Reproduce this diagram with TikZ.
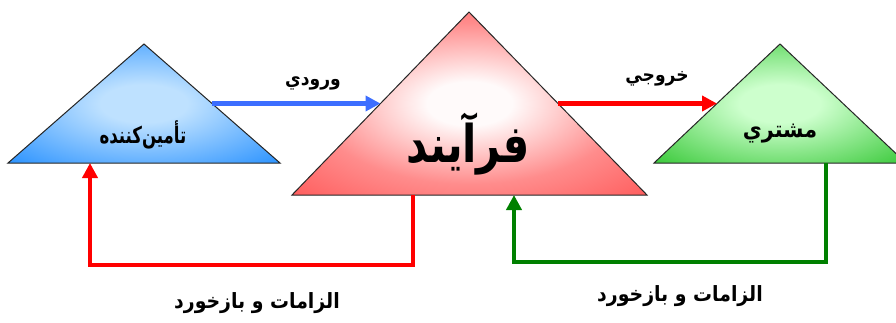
\documentclass[tikz,border=0pt]{standalone}
\usepackage{fontspec}
\newfontfamily\arabicfont[Script=Arabic,FakeStretch=0.9]{DejaVu Sans}
\newfontfamily\arabicnarrow[Script=Arabic,FakeStretch=0.72]{DejaVu Sans}
\newfontfamily\arabicbig[Script=Arabic,FakeStretch=0.8]{DejaVu Sans}
\TeXXeTstate=1
\usetikzlibrary{arrows.meta,calc}
\definecolor{blueIn}{RGB}{190,225,255}
\definecolor{blueOut}{RGB}{40,145,255}
\definecolor{redIn}{RGB}{255,250,250}
\definecolor{redMid}{RGB}{255,140,140}
\definecolor{redOut}{RGB}{255,85,85}
\definecolor{greenIn}{RGB}{205,255,205}
\definecolor{greenOut}{RGB}{55,200,55}
\definecolor{inArrow}{RGB}{60,110,255}
\definecolor{outArrow}{RGB}{255,0,0}
\definecolor{fbGreen}{RGB}{0,128,0}
\pgfdeclareradialshading{bluesh}{\pgfpoint{0bp}{0bp}}{color(0bp)=(blueIn); color(8bp)=(blueIn); color(36bp)=(blueOut); color(50bp)=(blueOut)}
\pgfdeclareradialshading{redsh}{\pgfpoint{0bp}{0bp}}{color(0bp)=(redIn); color(6bp)=(redIn); color(22bp)=(redMid); color(38bp)=(redOut); color(50bp)=(redOut)}
\pgfdeclareradialshading{greensh}{\pgfpoint{0bp}{0bp}}{color(0bp)=(greenIn); color(8bp)=(greenIn); color(36bp)=(greenOut); color(50bp)=(greenOut)}
\tikzset{
  tri/.style={draw=black!85, line width=1pt, line join=miter},
  conn/.style={line width=4.5pt, -{Triangle[length=15pt,width=15pt]}},
  smalllabel/.style={font=\arabicfont\bfseries\fontsize{19}{22}\selectfont, inner sep=0pt},
  fblabel/.style={font=\arabicfont\bfseries\fontsize{21}{24}\selectfont, inner sep=0pt},
  trilabel/.style={font=\arabicnarrow\bfseries\fontsize{23}{26}\selectfont, inner sep=0pt},
  custlabel/.style={font=\arabicfont\bfseries\fontsize{23}{26}\selectfont, inner sep=0pt},
  biglabel/.style={font=\arabicbig\bfseries\fontsize{52}{56}\selectfont, inner sep=0pt},
}
\begin{document}
\begin{tikzpicture}[x=1pt,y=-1pt]
\useasboundingbox (0,0) rectangle (896,322);
% triangle corners
\coordinate (bA) at (144,44);  \coordinate (bL) at (8,163);   \coordinate (bR) at (280,163);
\coordinate (rA) at (469,12);  \coordinate (rL) at (292,195); \coordinate (rR) at (647,195);
\coordinate (gA) at (780,44);  \coordinate (gL) at (654,163); \coordinate (gR) at (906,163);
% triangles
\shadedraw[tri, shading=bluesh] (bA) -- (bL) -- (bR) -- cycle;
\shadedraw[tri, shading=redsh] (rA) -- (rL) -- (rR) -- cycle;
\shadedraw[tri, shading=greensh] (gA) -- (gL) -- (gR) -- cycle;
% labels in triangles
\node[trilabel] (supplier) at (143,135) {\beginR تأمين‌كننده\endR};
\node[biglabel] (process) at (468,144) {\beginR فرآيند\endR};
\node[custlabel] (customer) at (780,134) {\beginR مشتري\endR};
% connection points
\coordinate (bSide) at ($(bA)!0.5!(bR)$);
\coordinate (rSideL) at ($(rA)!0.5!(rL)$);
\coordinate (rSideR) at ($(rA)!0.5!(rR)$);
\coordinate (gSide) at ($(gA)!0.5!(gL)$);
\coordinate (rBotOut) at (413,195);
\coordinate (rBotIn) at (514,195);
\coordinate (bBot) at (90,163);
\coordinate (gBot) at (826,163);
% forward arrows
\draw[conn, inArrow] (bSide) -- (rSideL);
\draw[conn, outArrow] (rSideR) -- (gSide);
% feedback arrows
\draw[conn, red, line join=miter] (rBotOut) -- ++(0,70) -| (bBot);
\draw[conn, fbGreen, line join=miter] (gBot) -- ++(0,99) -| (rBotIn);
% labels
\node[smalllabel] (inLbl) at (313,83) {\beginR ورودي\endR};
\node[smalllabel] (outLbl) at (657,79) {\beginR خروجي\endR};
\node[fblabel] (fbL) at (257,303) {\beginR الزامات و بازخورد\endR};
\node[fblabel] (fbR) at (680,296) {\beginR الزامات و بازخورد\endR};
\end{tikzpicture}
\end{document}
